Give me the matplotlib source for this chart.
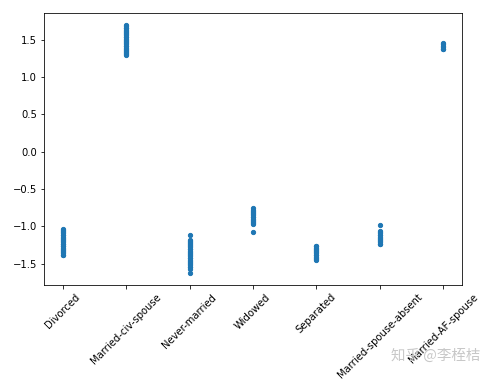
import matplotlib
matplotlib.use("Agg")
import matplotlib.pyplot as plt

categories = ["Divorced", "Married-civ-spouse", "Never-married", "Widowed",
              "Separated", "Married-spouse-absent", "Married-AF-spouse"]

divorced = [-1.39, -1.38, -1.36, -1.35, -1.33, -1.32, -1.30, -1.29, -1.27, -1.26, -1.24, -1.23,
            -1.21, -1.20, -1.18, -1.17, -1.15, -1.14, -1.12, -1.11, -1.09, -1.08, -1.06, -1.05, -1.04]
married_civ = [1.29, 1.30, 1.32, 1.33, 1.35, 1.36, 1.38, 1.39, 1.41, 1.42, 1.44, 1.45, 1.47, 1.48,
               1.50, 1.51, 1.53, 1.54, 1.56, 1.57, 1.59, 1.60, 1.62, 1.63, 1.65, 1.66, 1.68, 1.69]
never_married = [-1.62, -1.57, -1.55, -1.54, -1.52, -1.51, -1.49, -1.48, -1.46, -1.45, -1.43,
                 -1.42, -1.40, -1.39, -1.37, -1.36, -1.34, -1.33, -1.31, -1.30, -1.28, -1.27,
                 -1.25, -1.24, -1.22, -1.21, -1.19, -1.18, -1.11]
widowed = [-1.07, -0.97, -0.96, -0.94, -0.93, -0.91, -0.90, -0.88, -0.87, -0.85, -0.84,
           -0.82, -0.81, -0.79, -0.78, -0.76]
separated = [-1.45, -1.44, -1.42, -1.41, -1.39, -1.38, -1.36, -1.35, -1.33, -1.32, -1.30,
             -1.29, -1.27, -1.26]
spouse_absent = [-1.24, -1.23, -1.21, -1.20, -1.18, -1.17, -1.15, -1.14, -1.12, -1.11, -1.09,
                 -1.08, -1.06, -0.98]
af_spouse = [1.37, 1.38, 1.40, 1.42, 1.44, 1.45]

series = [divorced, married_civ, never_married, widowed, separated, spouse_absent, af_spouse]

W, H = 492, 383
fig = plt.figure(figsize=(W / 72, H / 72), dpi=72)
ax = fig.add_axes([44 / W, (H - 285) / H, (462 - 44) / W, (285 - 13) / H])

xs, ys = [], []
for cat, vals in zip(categories, series):
    xs += [cat] * len(vals)
    ys += vals
ax.scatter(xs, ys, s=18, color="#1f77b4")

ax.set_yticks([-1.5, -1.0, -0.5, 0.0, 0.5, 1.0, 1.5])
ax.tick_params(labelsize=10)
plt.setp(ax.get_xticklabels(), rotation=45)

fig.text(0.976, 0.072, "知乎 @李桎桔", ha="right", va="center", fontsize=14.5,
         color="#c8c8c8", family=["Noto Sans CJK SC", "DejaVu Sans"])

fig.savefig("out.png", dpi=72)
